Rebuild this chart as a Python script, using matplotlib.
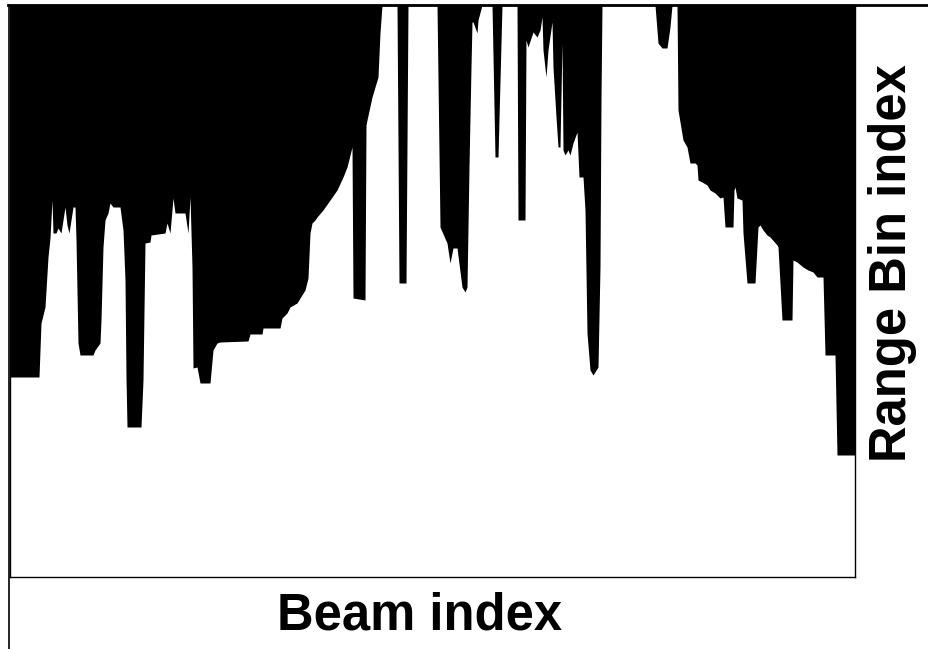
import matplotlib
matplotlib.use("Agg")
import matplotlib.pyplot as plt
from matplotlib.lines import Line2D

# boundary between the black (upper) and white (lower) region, per beam
beam = [0, 29, 31, 35, 38, 40, 42, 43, 46, 48, 51, 55, 57, 59, 63, 65, 66, 68, 70, 83,
        85, 90, 91, 93, 95, 98, 100, 103, 110, 113, 115, 116, 117, 131, 133, 135, 140, 141, 155, 157,
        160, 163, 165, 175, 178, 180, 182, 183, 187, 190, 200, 203, 207, 210, 238, 240, 252, 253, 270, 272,
        277, 280, 287, 290, 295, 298, 300, 302, 305, 307, 313, 320, 327, 333, 337, 342, 343, 355, 356, 357,
        362, 368, 370, 372, 387, 389, 396, 398, 427, 430, 437, 440, 443, 447, 452, 455, 457, 459, 461, 462,
        463, 467, 468, 472, 482, 485, 488, 492, 507, 508, 515, 516, 518, 523, 527, 530, 532, 533, 536, 538,
        542, 543, 546, 548, 550, 552, 553, 555, 558, 560, 563, 567, 569, 573, 575, 577, 580, 583, 588, 590,
        591, 592, 645, 648, 652, 657, 660, 662, 667, 668, 673, 677, 680, 685, 687, 688, 692, 697, 700, 705,
        710, 713, 715, 723, 724, 725, 727, 732, 733, 737, 745, 748, 750, 753, 757, 760, 767, 768, 772, 782,
        783, 787, 793, 798, 803, 807, 813, 815, 825, 827, 845]
range_bin = [200, 200, 254, 270, 320, 339, 377, 344, 344, 349, 344, 370, 352, 344, 370, 370, 337, 234, 222, 222,
             227, 234, 257, 330, 357, 364, 374, 370, 370, 347, 297, 200, 150, 150, 197, 334, 335, 342, 344, 354,
             344, 379, 364, 364, 344, 380, 310, 209, 210, 194, 194, 227, 234, 235, 236, 243, 243, 249, 249, 259,
             264, 270, 274, 279, 287, 299, 344, 354, 357, 360, 367, 377, 387, 400, 410, 430, 279, 277, 452, 457,
             480, 500, 544, 572, 572, 294, 294, 572, 572, 350, 334, 314, 329, 329, 290, 285, 290, 410, 510, 555,
             555, 544, 557, 572, 572, 420, 420, 572, 572, 357, 357, 537, 530, 545, 540, 547, 560, 527, 500, 527,
             555, 510, 460, 430, 430, 534, 427, 422, 427, 422, 434, 445, 400, 400, 367, 244, 207, 202, 210, 310,
             477, 572, 572, 534, 529, 529, 550, 572, 572, 467, 437, 430, 414, 414, 412, 397, 395, 392, 387, 384,
             379, 380, 350, 350, 387, 390, 379, 377, 344, 294, 294, 350, 352, 347, 342, 340, 332, 330, 257, 257,
             317, 315, 310, 307, 305, 300, 300, 222, 222, 122, 122]

n_beams = 845
n_bins = 572

fig = plt.figure(figsize=(9.29, 6.49), dpi=100)
W, H = 929, 649
ax = fig.add_axes([10 / W, (H - 577) / H, 845 / W, 572 / H])
ax.set_facecolor("white")
ax.fill_between(beam, range_bin, n_bins, color="black", linewidth=0)
ax.set_xlim(0, n_beams)
ax.set_ylim(0, n_bins)
ax.set_xticks([])
ax.set_yticks([])
for s in ax.spines.values():
    s.set_linewidth(1.0)
    s.set_color("black")

# frame lines that run past the axes
fig.add_artist(Line2D([8 / W, 1.0], [1 - 5 / H, 1 - 5 / H], color="black", linewidth=2.0))
fig.add_artist(Line2D([9.5 / W, 9.5 / W], [0, 1 - 5 / H], color="black", linewidth=1.2))

font = ["Liberation Sans", "DejaVu Sans"]
fig.text(420 / W, 1 - 616 / H, "Beam index", ha="center", va="center",
         fontsize=36.5, fontweight="bold", family=font)
fig.text(893 / W, 1 - 263 / H, "Range Bin index", ha="center", va="center",
         rotation=90, fontsize=36.5, fontweight="bold", family=font)

fig.savefig("out.png", dpi=100)
